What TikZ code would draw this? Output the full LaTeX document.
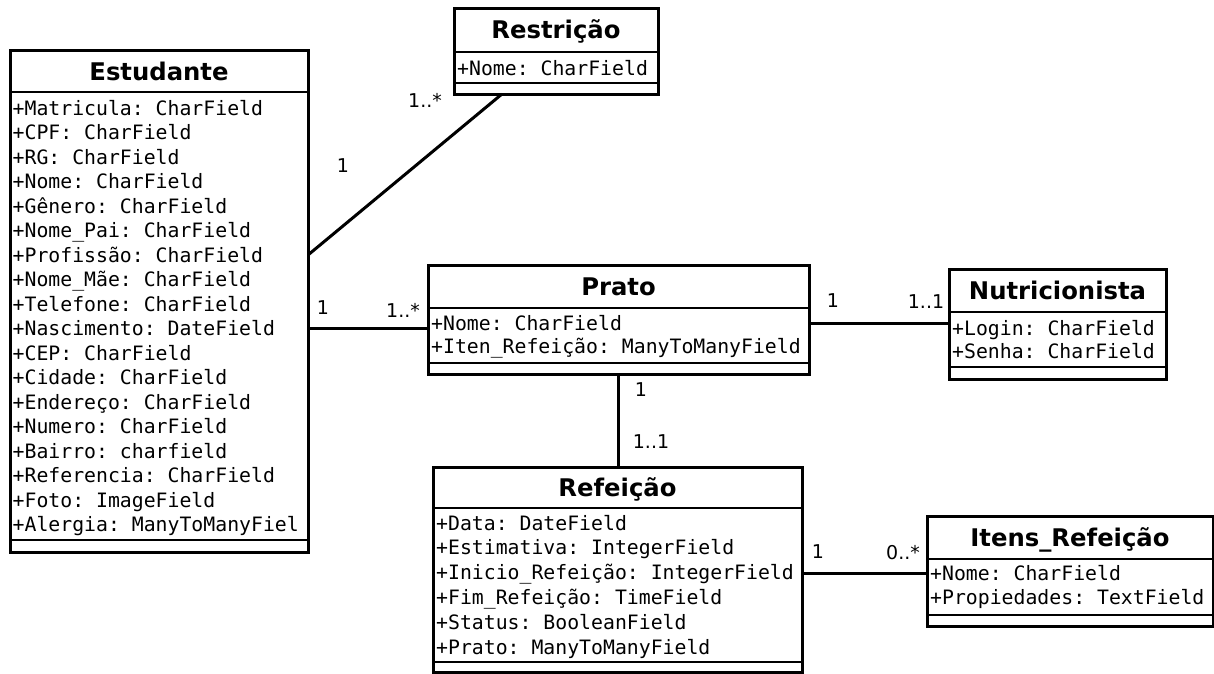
\documentclass[tikz,border=0pt]{standalone}
\usepackage{fontspec}
\setmainfont{DejaVu Sans}
\setmonofont{DejaVu Sans Mono}
\begin{document}
\begin{tikzpicture}[x=1pt,y=1pt,
  box/.style={draw, line width=3pt, inner sep=0pt, outer sep=0pt, anchor=north west, fill=white},
  ttl/.style={font=\bfseries\fontsize{24.3}{28}\selectfont, inner sep=0pt, anchor=base},
  attr/.style={font=\ttfamily\fontsize{19.8}{24}\selectfont, inner sep=0pt, anchor=base west},
  mult/.style={font=\fontsize{19}{22}\selectfont, inner sep=0pt},
  conn/.style={line width=3pt},
  divl/.style={line width=2.8pt}]
\path[use as bounding box, fill=white] (0,0) rectangle (1214,-673);

% ---------- Estudante ----------
\node[box, minimum width=298pt, minimum height=502pt] (est) at (10,-50) {};
\node[ttl] (est-t) at ([yshift=-30pt]est.north) {Estudante};
\draw[divl] (est.west |- 0,-92) -- (est.east |- 0,-92);
\draw[divl] (est.west |- 0,-540) -- (est.east |- 0,-540);
\foreach \t [count=\i] in {+Matricula: CharField, +CPF: CharField, +RG: CharField, +Nome: CharField,
  +Gênero: CharField, +Nome\_Pai: CharField, +Profissão: CharField, +Nome\_Mãe: CharField,
  +Telefone: CharField, +Nascimento: DateField, +CEP: CharField, +Cidade: CharField,
  +Endereço: CharField, +Numero: CharField, +Bairro: charfield, +Referencia: CharField,
  +Foto: ImageField, +Alergia: ManyToManyFiel}
  \node[attr] (est-a\i) at (12.5,{-115-24.5*(\i-1)}) {\t};

% ---------- Restrição ----------
\node[box, minimum width=204pt, minimum height=86pt] (res) at (454,-8) {};
\node[ttl] (res-t) at ([yshift=-30pt]res.north) {Restrição};
\draw[divl] (res.west |- 0,-52) -- (res.east |- 0,-52);
\draw[divl] (res.west |- 0,-83) -- (res.east |- 0,-83);
\node[attr] (res-a1) at (457,-75) {+Nome: CharField};

% ---------- Prato ----------
\node[box, minimum width=381pt, minimum height=109pt] (pra) at (428,-265) {};
\node[ttl] (pra-t) at ([yshift=-30pt]pra.north) {Prato};
\draw[divl] (pra.west |- 0,-308) -- (pra.east |- 0,-308);
\draw[divl] (pra.west |- 0,-363) -- (pra.east |- 0,-363);
\node[attr] (pra-a1) at (431,-330) {+Nome: CharField};
\node[attr] (pra-a2) at (431,-353) {+Iten\_Refeição: ManyToManyField};

% ---------- Nutricionista ----------
\node[box, minimum width=217pt, minimum height=110pt] (nut) at (949,-269) {};
\node[ttl] (nut-t) at ([yshift=-30pt]nut.north) {Nutricionista};
\draw[divl] (nut.west |- 0,-312) -- (nut.east |- 0,-312);
\draw[divl] (nut.west |- 0,-367) -- (nut.east |- 0,-367);
\node[attr] (nut-a1) at (952,-335) {+Login: CharField};
\node[attr] (nut-a2) at (952,-358) {+Senha: CharField};

% ---------- Refeição ----------
\node[box, minimum width=369pt, minimum height=205pt] (ref) at (433,-467) {};
\node[ttl] (ref-t) at ([yshift=-29pt]ref.north) {Refeição};
\draw[divl] (ref.west |- 0,-508) -- (ref.east |- 0,-508);
\draw[divl] (ref.west |- 0,-662) -- (ref.east |- 0,-662);
\foreach \t [count=\i] in {+Data: DateField, +Estimativa: IntegerField, +Inicio\_Refeição: IntegerField,
  +Fim\_Refeição: TimeField, +Status: BooleanField, +Prato: ManyToManyField}
  \node[attr] (ref-a\i) at (436,{-530-24.8*(\i-1)}) {\t};

% ---------- Itens_Refeição ----------
\node[box, minimum width=286pt, minimum height=110pt] (ite) at (927,-516) {};
\node[ttl] (ite-t) at ([yshift=-30pt]ite.north) {Itens\_Refeição};
\draw[divl] (ite.west |- 0,-559) -- (ite.east |- 0,-559);
\draw[divl] (ite.west |- 0,-615) -- (ite.east |- 0,-615);
\node[attr] (ite-a1) at (930,-580) {+Nome: CharField};
\node[attr] (ite-a2) at (930,-604) {+Propiedades: TextField};

% ---------- Connectors ----------
\draw[conn] ([yshift=-205pt]est.north east) -- ([xshift=-54pt]res.south);
\draw[conn] ([yshift=-278pt]est.north east) -- ([yshift=-63pt]pra.north west);
\draw[conn] ([yshift=-58pt]pra.north east) -- ([yshift=-54pt]nut.north west);
\draw[conn] ([xshift=190pt]pra.south west) -- ([xshift=185pt]ref.north west);
\draw[conn] ([yshift=-106pt]ref.north east) -- ([yshift=-57pt]ite.north west);

% ---------- Multiplicities ----------
\node[mult] (m1) at (425,-100) {1..*};
\node[mult] (m2) at (343,-166) {1};
\node[mult] (m3) at (323,-308) {1};
\node[mult] (m4) at (403,-310) {1..*};
\node[mult] (m5) at (833,-301) {1};
\node[mult] (m6) at (926,-302) {1..1};
\node[mult] (m7) at (641,-390) {1};
\node[mult] (m8) at (651,-442) {1..1};
\node[mult] (m9) at (818,-552) {1};
\node[mult] (m10) at (903,-553) {0..*};
\end{tikzpicture}
\end{document}
